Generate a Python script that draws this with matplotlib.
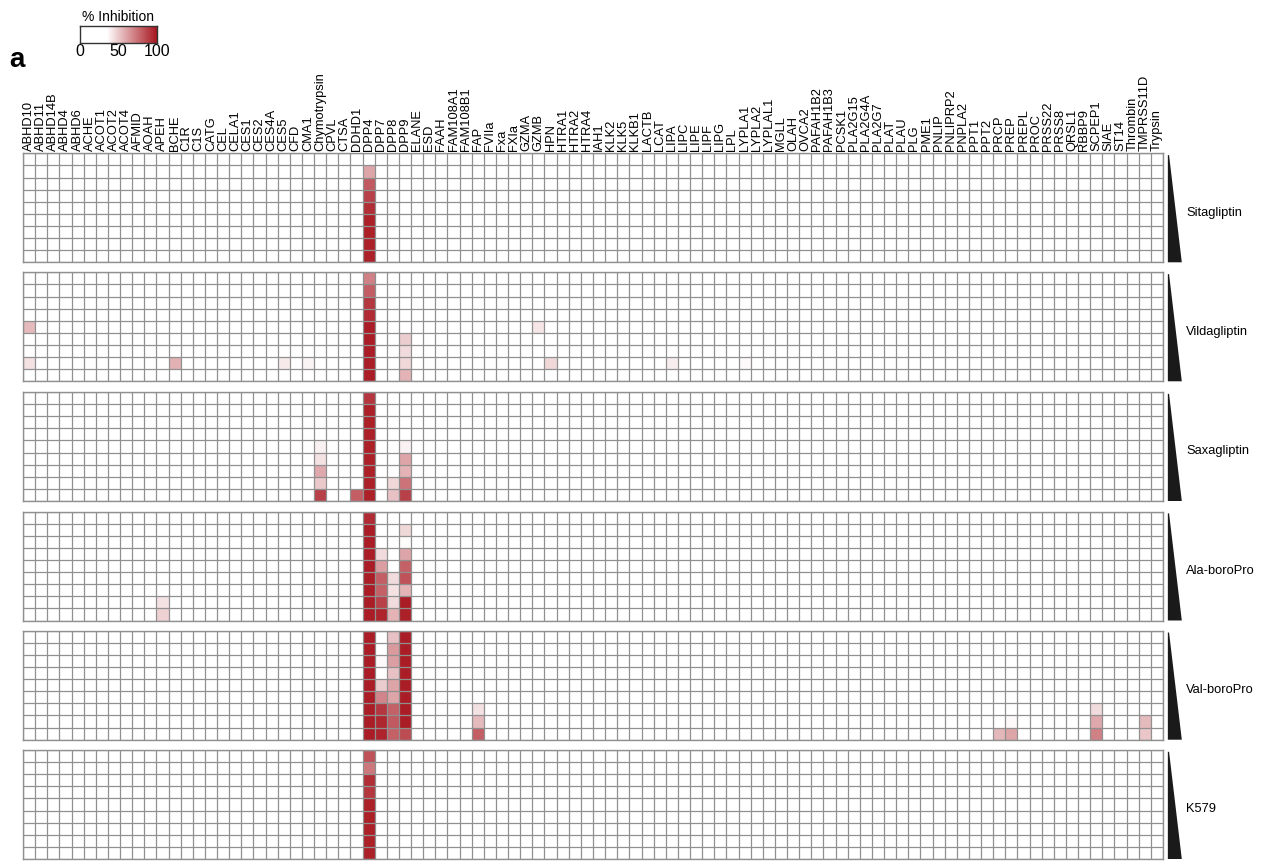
import numpy as np
import matplotlib
matplotlib.use("Agg")
import matplotlib.pyplot as plt
from matplotlib.colors import LinearSegmentedColormap
from matplotlib.patches import Polygon

plt.rcParams['font.family'] = ['Liberation Sans', 'DejaVu Sans']

# enzymes profiled (columns), left to right
enzymes = ["ABHD10", "ABHD11", "ABHD14B", "ABHD4", "ABHD6", "ACHE", "ACOT1", "ACOT2",
           "ACOT4", "AFMID", "AOAH", "APEH", "BCHE", "C1R", "C1S", "CATG", "CEL",
           "CELA1", "CES1", "CES2", "CES4A", "CES5", "CFD", "CMA1", "Chymotrypsin",
           "CPVL", "CTSA", "DDHD1", "DPP4", "DPP7", "DPP8", "DPP9", "ELANE", "ESD",
           "FAAH", "FAM108A1", "FAM108B1", "FAP", "FVIIa", "Fxa", "FXIa", "GZMA",
           "GZMB", "HPN", "HTRA1", "HTRA2", "HTRA4", "IAH1", "KLK2", "KLK5", "KLKB1",
           "LACTB", "LCAT", "LIPA", "LIPC", "LIPE", "LIPF", "LIPG", "LPL", "LYPLA1",
           "LYPLA2", "LYPLAL1", "MGLL", "OLAH", "OVCA2", "PAFAH1B2", "PAFAH1B3",
           "PCSK1", "PLA2G15", "PLA2G4A", "PLA2G7", "PLAT", "PLAU", "PLG", "PME1",
           "PNLIP", "PNLIPRP2", "PNPLA2", "PPT1", "PPT2", "PRCP", "PREP", "PREPL",
           "PROC", "PRSS22", "PRSS8", "QRSL1", "RBBP9", "SCPEP1", "SIAE", "ST14",
           "Thrombin", "TMPRSS11D", "Trypsin"]

compounds = ["Sitagliptin", "Vildagliptin", "Saxagliptin", "Ala-boroPro",
             "Val-boroPro", "K579"]
n_doses = 9

# % inhibition per dose (low -> high concentration); enzymes not listed are 0
sitagliptin = {"DPP4": [0, 60, 81, 88, 93, 97, 97, 97, 97]}

vildagliptin = {
    "ABHD10": [0, 0, 0, 0, 54, 0, 0, 43, 0],
    "BCHE": [0, 0, 0, 0, 0, 0, 0, 57, 0],
    "CES5": [0, 0, 0, 0, 0, 0, 0, 41, 0],
    "CMA1": [0, 0, 0, 0, 0, 0, 0, 38, 0],
    "DPP4": [70, 80, 91, 94, 98, 98, 98, 98, 98],
    "DPP9": [0, 0, 0, 0, 0, 49, 45, 46, 56],
    "GZMB": [0, 0, 0, 0, 42, 0, 0, 0, 0],
    "HPN": [0, 0, 0, 0, 0, 0, 0, 46, 0],
    "LIPA": [0, 0, 0, 0, 0, 0, 0, 40, 0],
    "LYPLA1": [0, 0, 0, 0, 0, 0, 0, 37, 0],
}

saxagliptin = {
    "Chymotrypsin": [0, 0, 0, 0, 39, 43, 59, 50, 88],
    "DDHD1": [0, 0, 0, 0, 0, 0, 0, 0, 80],
    "DPP4": [91, 97, 97, 97, 97, 97, 97, 97, 97],
    "DPP8": [0, 0, 0, 0, 0, 0, 0, 46, 52],
    "DPP9": [0, 0, 0, 0, 39, 60, 56, 74, 88],
}

ala_boropro = {
    "APEH": [0, 0, 0, 0, 0, 0, 0, 43, 48],
    "DPP4": [94, 98, 98, 98, 98, 98, 98, 98, 98],
    "DPP7": [0, 0, 0, 45, 62, 80, 79, 88, 96],
    "DPP8": [0, 0, 0, 0, 0, 45, 43, 45, 56],
    "DPP9": [0, 46, 36, 60, 79, 83, 56, 98, 97],
}

val_boropro = {
    "DPP4": [98, 98, 98, 98, 98, 98, 98, 98, 98],
    "DPP7": [0, 0, 37, 0, 49, 69, 91, 95, 96],
    "DPP8": [52, 63, 62, 52, 60, 60, 79, 81, 79],
    "DPP9": [98, 98, 98, 98, 98, 98, 98, 98, 85],
    "FAP": [0, 0, 0, 0, 0, 0, 43, 54, 80],
    "PRCP": [0, 0, 0, 0, 0, 0, 0, 0, 55],
    "PREP": [0, 0, 0, 0, 0, 0, 0, 37, 60],
    "SCPEP1": [0, 0, 0, 0, 0, 0, 45, 59, 70],
    "TMPRSS11D": [0, 0, 0, 0, 0, 0, 0, 54, 51],
}

k579 = {"DPP4": [83, 73, 93, 91, 97, 97, 97, 97, 97]}

panels = [sitagliptin, vildagliptin, saxagliptin, ala_boropro, val_boropro, k579]


def build_matrix(hits):
    m = np.zeros((n_doses, len(enzymes)))
    for name, vals in hits.items():
        m[:, enzymes.index(name)] = vals
    return m


cmap = LinearSegmentedColormap.from_list(
    "inhib", [(0, "white"), (0.35, "white"), (1, "#a8161f")])
grid_col = "#909090"

W, H = 1267, 861
fig = plt.figure(figsize=(W / 100, H / 100), dpi=100)

left, right = 23, 1163
tops = [153.3, 272.3, 392.0, 511.5, 630.7, 750.0]
ph = 109.0
ncol = len(enzymes)

for i, (name, hits) in enumerate(zip(compounds, panels)):
    ax = fig.add_axes([left / W, 1 - (tops[i] + ph) / H, (right - left) / W, ph / H])
    ax.pcolormesh(build_matrix(hits), cmap=cmap, vmin=0, vmax=100)
    ax.vlines(np.arange(ncol + 1), 0, n_doses, color=grid_col, lw=0.9)
    ax.hlines(np.arange(n_doses + 1), 0, ncol, color=grid_col, lw=0.9)
    ax.set_xlim(0, ncol)
    ax.set_ylim(n_doses, 0)
    for s in ax.spines.values():
        s.set_color(grid_col)
        s.set_linewidth(1.0)
    ax.set_yticks([])
    if i == 0:
        ax.xaxis.tick_top()
        ax.set_xticks(np.arange(ncol) + 0.5)
        ax.set_xticklabels(enzymes, rotation=90, fontsize=9.3)
        ax.tick_params(axis="x", length=0, pad=2)
    else:
        ax.set_xticks([])

    # dose wedge + compound name
    tri = Polygon([(94.4, 0.15), (94.5, 0.15), (95.55, n_doses), (94.4, n_doses)],
                  closed=True, facecolor="#1a1a1a", edgecolor="none", clip_on=False)
    ax.add_patch(tri)
    ax.text(95.9, 4.9, name, fontsize=9.3, va="center", ha="left")

# colour key
cax = fig.add_axes([80 / W, 1 - 42.7 / H, 77 / W, 16.5 / H])
grad = np.linspace(0, 100, 256).reshape(1, -1)
cax.imshow(grad, cmap=cmap, aspect="auto", extent=[0, 100, 0, 1], vmin=0, vmax=100)
cax.set_yticks([])
cax.set_xticks([0, 50, 100])
cax.tick_params(axis="x", length=0, pad=1, labelsize=11.5)
for s in cax.spines.values():
    s.set_color("#333333")
    s.set_linewidth(1)
cax.set_title("% Inhibition", fontsize=10, pad=4)

fig.text(9 / W, 1 - 60 / H, "a", fontsize=20, fontweight="bold", va="center", ha="left")

fig.savefig("out.png", dpi=100)
